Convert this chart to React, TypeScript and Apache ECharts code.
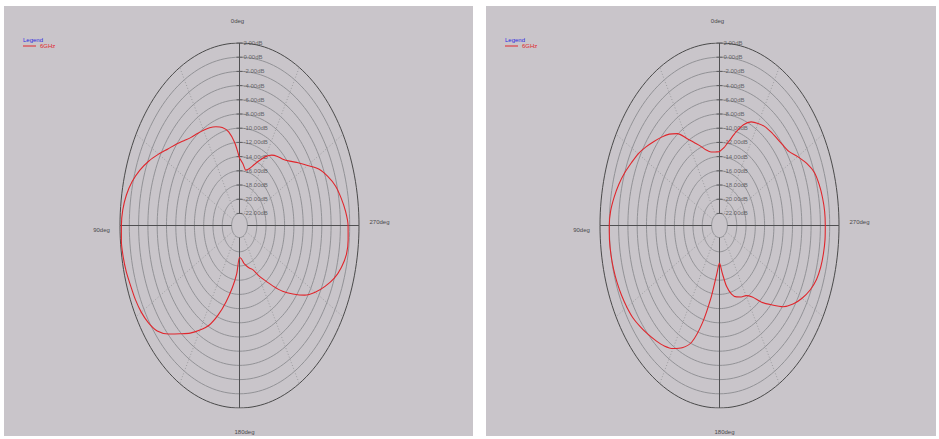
import React, { useEffect, useRef } from "react";
import * as echarts from "echarts";

// Direction of each sample, degrees counter-clockwise from the top (0deg)
const ANGLES = [
  0, 5, 10, 15, 20, 25, 30, 35, 40, 45, 50, 55, 60, 65, 70, 75, 80, 85,
  90, 95, 100, 105, 110, 115, 120, 125, 130, 135, 140, 145, 150, 155, 160, 165, 170, 175,
  180, 185, 190, 195, 200, 205, 210, 215, 220, 225, 230, 235, 240, 245, 250, 255, 260, 265,
  270, 275, 280, 285, 290, 295, 300, 305, 310, 315, 320, 325, 330, 335, 340, 345, 350, 355,
];

// Left plot gain (dB)
const LEFT_DB = [
  -14.2, -12.0, -10.3, -9.4, -8.9, -8.5, -8.2, -7.9, -7.5, -6.8, -5.9, -4.9, -3.6, -2.2, -0.9, 0.2, 1.0, 1.5,
  1.7, 1.8, 1.7, 1.5, 1.2, 1.0, 0.7, 0.2, -0.6, -2.1, -3.8, -5.2, -6.7, -8.2, -10.3, -12.6, -14.8, -16.9,
  -19.2, -19.0, -18.3, -17.8, -17.3, -16.8, -15.6, -14.3, -12.6, -10.6, -8.7, -6.6, -4.9, -3.4, -2.0, -1.0, -0.35, -0.25,
  -0.35, -0.8, -1.5, -2.3, -3.5, -4.9, -6.8, -8.3, -9.6, -10.5, -11.0, -11.6, -12.5, -13.6, -14.6, -15.4, -15.8, -15.0,
];

// Right plot gain (dB)
const RIGHT_DB = [
  -13.3, -13.3, -13.2, -12.7, -11.8, -10.8, -9.5, -7.9, -6.9, -6.1, -5.3, -4.4, -3.5, -2.8, -2.0, -1.3, -0.7, -0.2,
  0.0, 0.05, 0.0, -0.1, -0.25, -0.45, -0.7, -1.0, -1.5, -2.0, -2.5, -3.0, -3.7, -4.7, -6.2, -9.5, -13.5, -16.8,
  -18.4, -17.0, -15.0, -13.7, -13.0, -12.6, -12.3, -11.4, -9.6, -7.9, -5.9, -4.4, -3.2, -2.2, -1.5, -1.15, -1.0, -0.92,
  -0.95, -1.0, -1.2, -1.5, -1.95, -3.0, -4.3, -5.5, -6.0, -6.3, -6.5, -6.7, -7.1, -7.6, -8.6, -10.1, -11.6, -12.7,
];

const RING_DB = [2, 0, -2, -4, -6, -8, -10, -12, -14, -16, -18, -20, -22];
const RING_LABELS = [
  "2.00dB", "0.00dB", "-2.00dB", "-4.00dB", "-6.00dB", "-8.00dB", "-10.00dB",
  "-12.00dB", "-14.00dB", "-16.00dB", "-18.00dB", "-20.00dB", "-22.00dB",
];
const AXIS_ANGLES = [0, 90, 180, 270];
const SPOKE_ANGLES = [30, 60, 120, 150, 210, 240, 300, 330];
const DEG_LABELS = ["0deg", "90deg", "180deg", "270deg"];
const SERIES_NAME = "6GHz";

const DB_ZERO = -23.7; // gain mapped to radius 0
const DB_MAX = 2;

const FONT = "'Liberation Sans Narrow', 'Arial Narrow', 'Liberation Sans', Arial, sans-serif";
const RED = "#e0262c";

function rNorm(db: number) {
  return (db - DB_ZERO) / (DB_MAX - DB_ZERO);
}
function toXY(angle: number, db: number): [number, number] {
  const t = (angle * Math.PI) / 180;
  const r = rNorm(db);
  return [-r * Math.sin(t), r * Math.cos(t)];
}

function plotSeries(gridIndex: number, values: number[]) {
  const out: any[] = [];
  const base = { type: "line", xAxisIndex: gridIndex, yAxisIndex: gridIndex, showSymbol: false, silent: true };
  // rings
  RING_DB.forEach((db, i) => {
    const pts: [number, number][] = [];
    for (let a = 0; a <= 360; a += 2) pts.push(toXY(a, db));
    out.push({
      ...base,
      name: "ring",
      data: pts,
      lineStyle: { color: i === 0 ? "#4a4a4a" : "#929296", width: 1 },
      z: 1,
    });
  });
  // dotted spokes
  SPOKE_ANGLES.forEach((a) => {
    out.push({
      ...base,
      name: "spoke",
      data: [toXY(a, RING_DB[RING_DB.length - 1]), toXY(a, RING_DB[0])],
      lineStyle: { color: "#9c9c9f", width: 1, type: [1, 2] },
      z: 1,
    });
  });
  // main axes
  AXIS_ANGLES.forEach((a) => {
    out.push({
      ...base,
      name: "axis",
      data: [toXY(a, RING_DB[RING_DB.length - 1]), toXY(a, RING_DB[0])],
      lineStyle: { color: "#505052", width: 1 },
      z: 2,
    });
  });
  // radial tick labels
  out.push({
    type: "scatter",
    name: "ticks",
    xAxisIndex: gridIndex,
    yAxisIndex: gridIndex,
    silent: true,
    symbol: "rect",
    symbolSize: [6, 1],
    itemStyle: { color: "#505052" },
    data: RING_DB.map((db) => [0, rNorm(db)]),
    label: {
      show: true,
      position: "right",
      distance: 1,
      formatter: (p: any) => RING_LABELS[p.dataIndex],
      fontSize: 6,
      fontFamily: FONT,
      color: "#4a4a4c",
    },
    z: 3,
  });
  // measured pattern
  const pts = ANGLES.map((a, i) => toXY(a, values[i]));
  pts.push(pts[0]);
  out.push({
    ...base,
    name: SERIES_NAME,
    data: pts,
    smooth: 0.25,
    lineStyle: { color: RED, width: 1.1 },
    itemStyle: { color: RED },
    z: 4,
  });
  return out;
}

const PLOTS = [
  { cx: 239.5, panel: { x: 4, w: 469 }, legendX: 23 },
  { cx: 719.5, panel: { x: 486, w: 450 }, legendX: 505 },
];
const CY = 225.5;
const RX = 119.5;
const RY = 182.5;

export default function App() {
  const ref = useRef<HTMLDivElement>(null);
  useEffect(() => {
    if (!ref.current) return;
    const chart = echarts.init(ref.current, null, { renderer: "svg" });
    const grids = PLOTS.map((p) => ({ left: p.cx - RX, top: CY - RY, width: 2 * RX, height: 2 * RY, show: false }));
    const axisCommon = { type: "value", min: -1, max: 1, show: false };
    const graphics: any[] = [];
    PLOTS.forEach((p) => {
      graphics.push({
        type: "rect",
        shape: { x: p.panel.x, y: 6, width: p.panel.w, height: 430 },
        style: { fill: "#c9c5ca" },
        z: -10,
        silent: true,
      });
      graphics.push({
        type: "text",
        x: p.legendX,
        y: 39.5,
        style: { text: "Legend", fill: "#2a2ae0", fontSize: 6, fontFamily: FONT, textVerticalAlign: "middle" },
        silent: true,
      });
      const degPos: [number, number][] = [
        [p.cx - 2, 20.5],
        [p.cx - 138, 230],
        [p.cx + 5, 432],
        [p.cx + 140, 222],
      ];
      DEG_LABELS.forEach((t, i) => {
        graphics.push({
          type: "text",
          x: degPos[i][0],
          y: degPos[i][1],
          style: {
            text: t,
            fill: "#4a4a4c",
            fontSize: 6,
            fontFamily: FONT,
            textAlign: "center",
            textVerticalAlign: "middle",
          },
          silent: true,
        });
      });
    });
    chart.setOption({
      animation: false,
      backgroundColor: "transparent",
      grid: grids,
      xAxis: grids.map((_, i) => ({ ...axisCommon, gridIndex: i })),
      yAxis: grids.map((_, i) => ({ ...axisCommon, gridIndex: i })),
      legend: PLOTS.map((p) => ({
        left: p.legendX,
        top: 43,
        data: [SERIES_NAME],
        icon: "rect",
        itemWidth: 13,
        itemHeight: 1,
        itemGap: 0,
        padding: 0,
        selectedMode: false,
        textStyle: { color: RED, fontSize: 6, fontFamily: FONT, padding: [0, 0, 0, -1] },
      })),
      graphic: graphics,
      series: [...plotSeries(0, LEFT_DB), ...plotSeries(1, RIGHT_DB)],
    });
    return () => chart.dispose();
  }, []);
  return (
    <div
      ref={ref}
      style={{ position: "fixed", left: 0, top: 0, width: 939, height: 439, background: "#ffffff" }}
    />
  );
}
